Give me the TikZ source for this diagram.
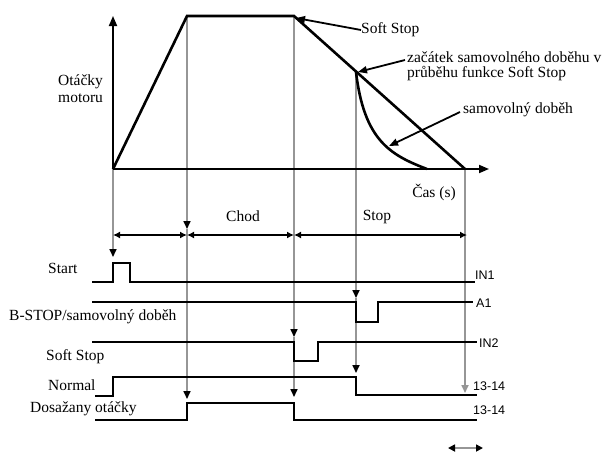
\documentclass[tikz,border=0pt]{standalone}
\usepackage{fontspec}
\setmainfont{Liberation Serif}
\newfontfamily\labsans{Liberation Sans}
\usetikzlibrary{arrows.meta}
\definecolor{guidegray}{RGB}{150,150,150}
\begin{document}
\begin{tikzpicture}[x=1pt,y=-1pt,
  graphline/.style={line width=2.6pt, line join=miter},
  sigline/.style={line width=2.2pt, line join=miter},
  guide/.style={guidegray, line width=1.6pt, -{Triangle[length=8pt,width=7pt,color=black]}},
  guidegrey/.style={guidegray, line width=1.6pt, -{Triangle[length=8pt,width=7pt]}},
  dimline/.style={line width=2pt, {Latex[length=7pt,width=7pt]}-{Latex[length=7pt,width=7pt]}},
  axisarrow/.style={line width=1.8pt, -{Triangle[length=10pt,width=8pt]}},
  annot/.style={line width=1.8pt, -{Triangle[length=9pt,width=7pt]}},
  serl/.style={font=\fontsize{15.5}{15}\selectfont, inner sep=0pt},
  sanl/.style={font=\labsans\fontsize{12.5}{13}\selectfont, inner sep=0pt, anchor=west}]
\fill[white] (0,0) rectangle (609,453);
\useasboundingbox (0,0) rectangle (609,453);

% key points
\coordinate (O) at (113,169);
\coordinate (Ytop) at (113,16);
\coordinate (Xend) at (489,169);
\coordinate (P1) at (187,16);
\coordinate (P2) at (294,16);
\coordinate (M) at (356,72);
\coordinate (E) at (465,169);
\coordinate (F) at (427,169);

% guide (gray) lines
\coordinate (g1a) at (113,257);
\coordinate (g2a) at (187,229);
\coordinate (g2b) at (187,399);
\coordinate (g3a) at (294,337);
\coordinate (g3b) at (294,397);
\coordinate (g4a) at (356,298);
\coordinate (g4b) at (356,373);
\coordinate (g5a) at (465,393);
\draw[guide] (O) -- (g1a);
\draw[guide] (P1) -- (g2a);
\draw[guide] (g2a) -- (g2b);
\draw[guide] (P2) -- (g3a);
\draw[guide] (g3a) -- (g3b);
\draw[guide] (M) -- (g4a);
\draw[guide] (g4a) -- (g4b);
\draw[guidegrey] (E) -- (g5a);

% axes
\draw[axisarrow] (O) -- (Ytop);
\draw[axisarrow] (O) -- (Xend);

% speed curve
\draw[graphline] (O) -- (P1) -- (P2) -- (E);
\draw[graphline] (M) .. controls (364,140) and (390,155) .. (F);

% top labels
\node[serl, anchor=west, align=left] (ot) at (58,89) {Otáčky\\[2pt]motoru};
\node[serl, anchor=west] (ss) at (361,30) {Soft Stop};
\node[serl, anchor=west, align=left] (zac) at (407,66) {začátek samovolného doběhu v\\[0pt]průběhu funkce Soft Stop};
\node[serl, anchor=west] (sd) at (463,110) {samovolný doběh};
\node[serl] (cas) at (434,192) {Čas (s)};
\node[serl] (chod) at (243,216) {Chod};
\node[serl] (stop) at (377,217) {Stop};

\coordinate (ssT) at (296,18);
\coordinate (zacS) at (405,60);
\coordinate (zacT) at (358,72);
\coordinate (sdS) at (460,112);
\coordinate (sdT) at (389,146);
\draw[annot] (ss.west) -- (ssT);
\draw[annot] (zacS) -- (zacT);
\draw[annot] (sdS) -- (sdT);

% dimension line
\coordinate (d0) at (113,235);
\coordinate (d1) at (187,235);
\coordinate (d2) at (294,235);
\coordinate (d3) at (467,235);
\draw[dimline] (d0) -- (d1);
\draw[dimline] (d1) -- (d2);
\draw[dimline] (d2) -- (d3);

% signals
\draw[sigline] (92,282) -- (113,282) -- (113,263) -- (130,263) -- (130,282) -- (475,282);
\draw[sigline] (92,302) -- (356,302) -- (356,322) -- (378,322) -- (378,302) -- (473,302);
\draw[sigline] (92,342) -- (294,342) -- (294,361) -- (318,361) -- (318,342) -- (477,342);
\draw[sigline] (95,396) -- (113,396) -- (113,377) -- (356,377) -- (356,395) -- (477,395);
\draw[sigline] (95,420) -- (187,420) -- (187,403) -- (294,403) -- (294,420) -- (477,420);

% left labels
\node[serl, anchor=west] (lstart) at (48,268) {Start};
\node[serl, anchor=west] (lestop) at (9,317) {B-STOP/samovolný doběh};
\node[serl, anchor=west] (lsoft) at (46,357) {Soft Stop};
\node[serl, anchor=west] (lnorm) at (48,385) {Normal};
\node[serl, anchor=west] (ldos) at (30,409) {Dosažany otáčky};

% right labels
\node[sanl] (rin1) at (475,275) {IN1};
\node[sanl] (ra1) at (476,303) {A1};
\node[sanl] (rin2) at (479,343) {IN2};
\node[sanl] (r1314a) at (473,386) {13-14};
\node[sanl] (r1314b) at (473,410) {13-14};

% small double arrow
\coordinate (b0) at (448,448);
\coordinate (b1) at (483,448);
\draw[guidegray, line width=1.6pt, {Triangle[length=7pt,width=7pt,color=black]}-{Triangle[length=7pt,width=7pt,color=black]}] (b0) -- (b1);
\end{tikzpicture}
\end{document}
